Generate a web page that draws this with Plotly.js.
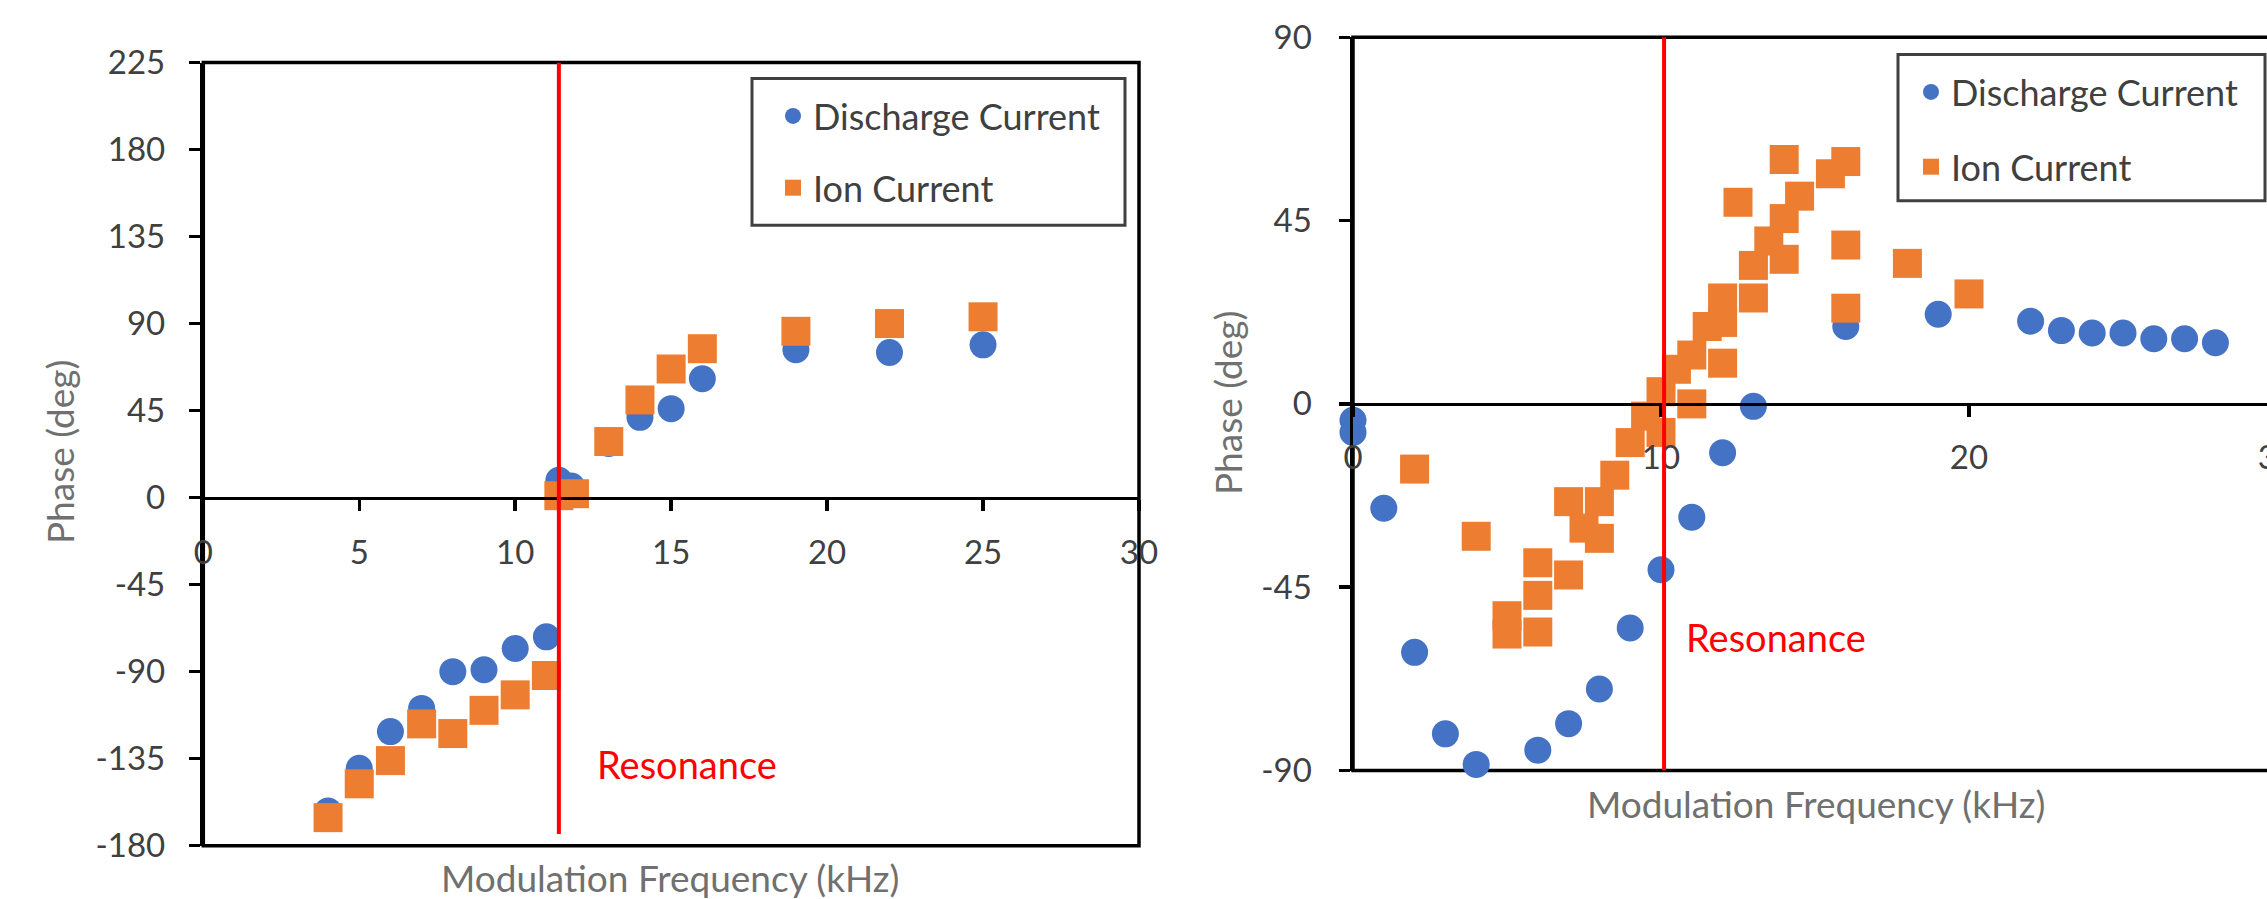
<!DOCTYPE html>
<html><head><meta charset="utf-8">
<script src="https://cdn.plot.ly/plotly-3.0.1.min.js"></script>
<style>html,body{margin:0;padding:0;overflow:hidden;background:#fff;} #chart{width:2300px;height:899px;}</style>
</head><body><div id="chart"></div>
<script>
// ---- Left chart data ----
const leftDischargeFreq = [4,5,6,7,8,9,10,11,11.4,11.8,13,14,15,16,19,22,25];
const leftDischargePhase = [-162,-140,-121,-109,-90,-89,-78,-72,9,6,28,41.5,46,61.5,76.5,75,79];
const leftIonFreq = [4,5,6,7,8,9,10,11,11.4,11.9,13,14,15,16,19,22,25];
const leftIonPhase = [-165.5,-148,-136,-117,-122,-110,-102,-92,1,2,29,50.5,66.5,77,86,90,93.5];
const leftResonance = 11.4;
const leftXRange = [0,30];
const leftYRange = [-180,225];
const leftYTickVals = [-180,-135,-90,-45,0,45,90,135,180,225];
const leftYTickText = ['-180','-135','-90','-45','0','45','90','135','180','225'];
const leftXTickVals = [0,5,10,15,20,25,30];
const leftXTickText = ['0','5','10','15','20','25','30'];

// ---- Right chart data ----
const rightDischargeFreq = [0,0,1,2,3,4,6,7,8,9,10,11,12,13,16,19,22,23,24,25,26,27,28];
const rightDischargePhase = [-4,-7,-25.6,-61,-81,-88.5,-85,-78.5,-70,-55,-40.7,-27.8,-12,-0.6,19,22,20.3,18,17.4,17.4,16,16,15];
const rightIonFreq = [2,4,5,5,6,6,6,7,7,7.5,8,8,8.5,9,9.5,10,10,10.5,11,11,11.5,12,12,12,12.5,13,13,13.5,14,14,14,14.5,15.5,16,16,16,18,20];
const rightIonPhase = [-16,-32.5,-52,-56.5,-39,-47,-56,-42,-24,-30.5,-24,-33,-17.5,-9.5,-3,3,-7,8.5,12,0,19,26,20,10,49.5,34,26,40,60,45.5,35.5,51,56.5,59.5,39,23.5,34.5,27];
const rightResonance = 10.1;
const rightXRange = [0,30];
const rightYRange = [-90,90];
const rightYTickVals = [-90,-45,0,45,90];
const rightYTickText = ['-90','-45','0','45','90'];
const rightXTickVals = [0,10,20,30];
const rightXTickText = ['0','10','20','30'];

const seriesNames = ['Discharge Current','Ion Current'];
const xTitle = 'Modulation Frequency (kHz)';
const yTitle = 'Phase (deg)';
const resonanceLabel = 'Resonance';

// ---- geometry (pixels) ----
const W = 2300, H = 899;
const px = p => p / W;
const py = p => 1 - p / H;
const FONT = 'Lato, "Open Sans", sans-serif';
const BLUE = '#4472C4', ORANGE = '#ED7D31';
const TICKC = '#404040', TITLEC = '#707070';

const Ld = {x:[px(203.3), px(1139)], y:[py(845.7), py(62.5)]};
const Rd = {x:[px(1353), px(2277)], y:[py(770.5), py(37.3)]};
function zeroPos(dom, r){ return dom[0] + (0 - r[0])/(r[1]-r[0])*(dom[1]-dom[0]); }

const common = {
  showgrid:false, zeroline:false, showline:true, linecolor:'#000', linewidth:3.5,
  ticks:'outside', ticklen:11, tickwidth:3.5, tickcolor:'#000', tickmode:'array',
  tickfont:{family:FONT, size:33, color:TICKC}
};

const mkBlue = {color:BLUE, size:27, symbol:'circle'};
const mkOrange = {color:ORANGE, size:29, symbol:'square'};

const traces = [
  {x:leftDischargeFreq, y:leftDischargePhase, type:'scatter', mode:'markers', name:seriesNames[0], marker:mkBlue, xaxis:'x', yaxis:'y', legend:'legend', legendgroup:'a', cliponaxis:false},
  {x:leftIonFreq, y:leftIonPhase, type:'scatter', mode:'markers', name:seriesNames[1], marker:mkOrange, xaxis:'x', yaxis:'y', legend:'legend', legendgroup:'b', cliponaxis:false},
  {x:rightDischargeFreq, y:rightDischargePhase, type:'scatter', mode:'markers', name:seriesNames[0], marker:mkBlue, xaxis:'x2', yaxis:'y2', legend:'legend2', legendgroup:'c', cliponaxis:false},
  {x:rightIonFreq, y:rightIonPhase, type:'scatter', mode:'markers', name:seriesNames[1], marker:mkOrange, xaxis:'x2', yaxis:'y2', legend:'legend2', legendgroup:'d', cliponaxis:false}
];

const legendFont = {family:FONT, size:36, color:TICKC};
const layout = {
  width: W, height: H,
  margin:{l:0,r:0,t:0,b:0},
  paper_bgcolor:'#fff', plot_bgcolor:'rgba(0,0,0,0)',
  xaxis: Object.assign({}, common, {domain:Ld.x, range:leftXRange, tickvals:leftXTickVals, ticktext:leftXTickText, anchor:'free', position:zeroPos(Ld.y, leftYRange), ticklabelstandoff:13}),
  yaxis: Object.assign({}, common, {domain:Ld.y, range:leftYRange, tickvals:leftYTickVals, ticktext:leftYTickText, anchor:'x', ticklabelstandoff:17}),
  xaxis2: Object.assign({}, common, {domain:Rd.x, range:rightXRange, tickvals:rightXTickVals, ticktext:rightXTickText, anchor:'free', position:zeroPos(Rd.y, rightYRange), ticklabelstandoff:12}),
  yaxis2: Object.assign({}, common, {domain:Rd.y, range:rightYRange, tickvals:rightYTickVals, ticktext:rightYTickText, anchor:'x2', ticklabelstandoff:20}),
  legend:{x:px(773), y:py(86), xanchor:'left', yanchor:'top', font:legendFont, bgcolor:'rgba(0,0,0,0)', borderwidth:0, tracegroupgap:22, traceorder:'grouped'},
  legend2:{x:px(1911), y:py(62), xanchor:'left', yanchor:'top', font:legendFont, bgcolor:'rgba(0,0,0,0)', borderwidth:0, tracegroupgap:25, traceorder:'grouped'},
  shapes:[
    {type:'rect', xref:'x domain', yref:'y domain', x0:0, x1:1, y0:0, y1:1, line:{color:'#000', width:3.5}, layer:'below'},
    {type:'rect', xref:'x2 domain', yref:'y2 domain', x0:0, x1:1, y0:0, y1:1, line:{color:'#000', width:3.5}, layer:'below'},
    {type:'line', xref:'x', yref:'y', x0:leftResonance, x1:leftResonance, y0:-174, y1:leftYRange[1], line:{color:'#FF0000', width:4}},
    {type:'line', xref:'x2', yref:'y2', x0:rightResonance, x1:rightResonance, y0:rightYRange[0], y1:rightYRange[1], line:{color:'#FF0000', width:4}},
    {type:'rect', xref:'paper', yref:'paper', x0:px(752), x1:px(1125), y0:py(225.3), y1:py(78.6), line:{color:'#404040', width:3}},
    {type:'rect', xref:'paper', yref:'paper', x0:px(1898), x1:px(2265), y0:py(200.7), y1:py(54.5), line:{color:'#404040', width:3}}
  ],
  annotations:[
    {text:xTitle, xref:'paper', yref:'paper', x:px(670), y:py(877), showarrow:false, font:{family:FONT, size:37, color:TITLEC}, xanchor:'center', yanchor:'middle'},
    {text:xTitle, xref:'paper', yref:'paper', x:px(1816), y:py(803), showarrow:false, font:{family:FONT, size:37, color:TITLEC}, xanchor:'center', yanchor:'middle'},
    {text:yTitle, xref:'paper', yref:'paper', x:px(60), y:py(452), showarrow:false, textangle:-90, font:{family:FONT, size:37, color:TITLEC}, xanchor:'center', yanchor:'middle'},
    {text:yTitle, xref:'paper', yref:'paper', x:px(1227), y:py(403), showarrow:false, textangle:-90, font:{family:FONT, size:37, color:TITLEC}, xanchor:'center', yanchor:'middle'},
    {text:resonanceLabel, xref:'paper', yref:'paper', x:px(595), y:py(764), showarrow:false, font:{family:FONT, size:38, color:'#FF0000'}, xanchor:'left', yanchor:'middle'},
    {text:resonanceLabel, xref:'paper', yref:'paper', x:px(1684), y:py(637), showarrow:false, font:{family:FONT, size:38, color:'#FF0000'}, xanchor:'left', yanchor:'middle'}
  ]
};

Plotly.newPlot('chart', traces, layout, {staticPlot:true, displayModeBar:false});
</script>
</body></html>
